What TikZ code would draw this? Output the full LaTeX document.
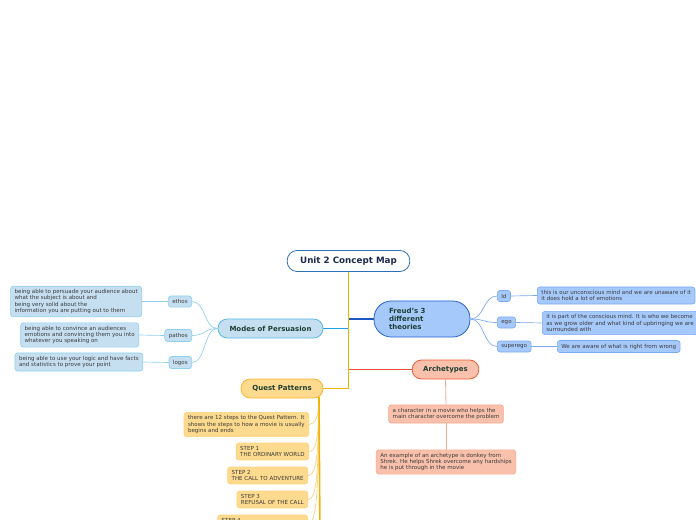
\documentclass[tikz,border=0pt]{standalone}
\usepackage{fontspec}
\setmainfont{DejaVu Sans}
\definecolor{titleline}{HTML}{2F6FB7}
\definecolor{titletext}{HTML}{1B2A4E}
\definecolor{topictxt}{HTML}{1E3F34}
\definecolor{txt}{HTML}{3B3B3B}
\definecolor{modesfill}{HTML}{C5DFF1}
\definecolor{modesdraw}{HTML}{55B9E8}
\definecolor{modesline}{HTML}{1BA3E1}
\definecolor{modeslight}{HTML}{8ED0F0}
\definecolor{freudfill}{HTML}{A6C9FB}
\definecolor{freuddraw}{HTML}{2462CF}
\definecolor{freudline}{HTML}{1D57C4}
\definecolor{freudlight}{HTML}{7AA9F2}
\definecolor{archfill}{HTML}{F9C1AC}
\definecolor{archdraw}{HTML}{EB5D35}
\definecolor{archline}{HTML}{EA5431}
\definecolor{archlight}{HTML}{F4AA90}
\definecolor{questfill}{HTML}{FDDA8D}
\definecolor{questdraw}{HTML}{F6B62B}
\definecolor{questline}{HTML}{F4B200}
\definecolor{questlight}{HTML}{FBD27A}

\begin{document}
\begin{tikzpicture}[x=0.75pt, y=-0.75pt,
                    every node/.style = {text=txt, align=left, font=\fontsize{4.15}{4.6}\selectfont},
                    topic/.style = {draw, line width=0.6pt, rounded corners=7pt, minimum height=14.25pt,
                                    text=topictxt, font=\fontsize{5.25}{5.9}\selectfont\bfseries},
                    leaf/.style = {draw, line width=0.5pt, rounded corners=2pt, inner xsep=3pt, inner ysep=2.5pt},
                    tag/.style = {leaf, minimum height=8.25pt, inner ysep=1pt},
                    modesleaf/.style = {leaf, fill=modesfill, draw=modeslight},
                    freudleaf/.style = {leaf, fill=freudfill, draw=freudlight},
                    archleaf/.style = {leaf, fill=archfill, draw=archlight},
                    questleaf/.style = {leaf, fill=questfill, draw=questlight},
                    modesedge/.style = {draw=modeslight, line width=0.5pt},
                    freudedge/.style = {draw=freudlight, line width=0.5pt},
                    archedge/.style = {draw=archlight, line width=0.6pt},
                    questedge/.style = {draw=questlight, line width=0.5pt}]
    \useasboundingbox (0,0) rectangle (696,520);

    \node (title) [draw=titleline, line width=0.6pt, fill=white, rounded corners=7.5pt,
                   minimum width=92pt, minimum height=15.75pt, text=titletext,
                   font=\fontsize{6.55}{7.5}\selectfont\bfseries] at (348.5,261) {Unit 2 Concept Map};

    \node (modes) [topic, fill=modesfill, draw=modesdraw, minimum width=78.75pt] at (270.5,328.5) {Modes of Persuasion};
    \node (freud) [topic, fill=freudfill, draw=freuddraw, minimum width=72pt, minimum height=27pt,
                   rounded corners=13pt, text width=49.5pt] at (422,319) {Freud's 3\\different\\theories};
    \node (arch)  [topic, fill=archfill, draw=archdraw, minimum width=50pt] at (445.5,369.5) {Archetypes};
    \node (quest) [topic, fill=questfill, draw=questdraw, minimum width=61.5pt] at (282,388.5) {Quest Patterns};

    \draw [archline, line width=0.8pt]  (title.south) |- (arch.west);
    \draw [freudline, line width=0.8pt] (title.south) |- (freud.west);
    \draw [modesline, line width=0.8pt] (title.south) |- (modes.east);
    \draw [questline, line width=0.9pt] (title.south) |- (quest.east);

    \node (ethos)  [tag, modesleaf, anchor=east] at (192,301.5) {ethos};
    \node (pathos) [tag, modesleaf, anchor=east] at (192,335.5) {pathos};
    \node (logos)  [tag, modesleaf, anchor=east] at (192,362.5) {logos};

    \node (ethostxt)  [modesleaf, anchor=east] at (142,301.5) {being able to persuade your audience about\\what the subject is about and\\being very solid about the\\information you are putting out to them};
    \node (pathostxt) [modesleaf, anchor=east] at (139,335) {being able to convince an audiences\\emotions and convincing them you into\\whatever you speaking on};
    \node (logostxt)  [modesleaf, anchor=east] at (143,362) {being able to use your logic and have facts\\and statistics to prove your point};

    \draw [modesedge] (modes.west) .. controls +(-14,0) and +(14,0) .. (ethos.east);
    \draw [modesedge] (modes.west) .. controls +(-14,0) and +(14,0) .. (pathos.east);
    \draw [modesedge] (modes.west) .. controls +(-14,0) and +(14,0) .. (logos.east);
    \draw [modesedge] (ethos.west)  -- (ethostxt.east);
    \draw [modesedge] (pathos.west) -- (pathostxt.east);
    \draw [modesedge] (logos.west)  -- (logostxt.east);

    \node (id)       [tag, freudleaf, anchor=west] at (497,296) {Id};
    \node (ego)      [tag, freudleaf, anchor=west] at (497,322.5) {ego};
    \node (superego) [tag, freudleaf, anchor=west] at (497,346.5) {superego};

    \node (idtxt)       [freudleaf, anchor=west] at (537,295.5) {this is our unconscious mind and we are unaware of it\\it does hold a lot of emotions};
    \node (egotxt)      [freudleaf, anchor=west] at (542,323) {it is part of the conscious mind. It is who we become\\as we grow older and what kind of upbringing we are\\surrounded with};
    \node (superegotxt) [freudleaf, anchor=west] at (557,346.5) {We are aware of what is right from wrong};

    \draw [freudedge] (freud.east) .. controls +(14,0) and +(-14,0) .. (id.west);
    \draw [freudedge] (freud.east) .. controls +(14,0) and +(-14,0) .. (ego.west);
    \draw [freudedge] (freud.east) .. controls +(14,0) and +(-14,0) .. (superego.west);
    \draw [freudedge] (id.east)       -- (idtxt.west);
    \draw [freudedge] (ego.east)      -- (egotxt.west);
    \draw [freudedge] (superego.east) -- (superegotxt.west);

    \node (helper)  [archleaf] at (446,414) {a character in a movie who helps the\\main character overcome the problem};
    \node (donkey)  [archleaf] at (446,462) {An example of an archetype is donkey from\\Shrek. He helps Shrek overcome any hardships\\he is put through in the movie};

    \draw [archedge] (arch.south)   -- (helper.north);
    \draw [archedge] (helper.south) -- (donkey.north);

    \node (steps) [questleaf, anchor=east] at (309,424.5) {there are 12 steps to the Quest Pattern. It\\shows the steps to how a movie is usually\\begins and ends};
    \node (step1) [questleaf, anchor=east] at (309,451.5) {STEP 1\\THE ORDINARY WORLD};
    \node (step2) [questleaf, anchor=east] at (308,475.5) {STEP 2\\THE CALL TO ADVENTURE};
    \node (step3) [questleaf, anchor=east] at (308,499.5) {STEP 3\\REFUSAL OF THE CALL};
    \node (step4) [questleaf, anchor=east, text width=61.5pt] at (308,523.5) {STEP 4\\\mbox{}};

    \coordinate (qtop) at (319,397);
    \coordinate (qmore) at (320,540);

    \draw [questedge] (qtop) .. controls +(0,20) and +(6,0) .. (steps.east);
    \draw [questedge] (qtop) .. controls +(0,45) and +(6,0) .. (step1.east);
    \draw [questedge] (qtop) .. controls +(0,70) and +(6,0) .. (step2.east);
    \draw [questedge] (qtop) .. controls +(0,94) and +(6,0) .. (step3.east);
    \draw [questedge] (qtop) .. controls +(0,118) and +(6,0) .. (step4.east);
    \draw [questline, line width=1.2pt] (qtop) -- (qmore);
\end{tikzpicture}
\end{document}
